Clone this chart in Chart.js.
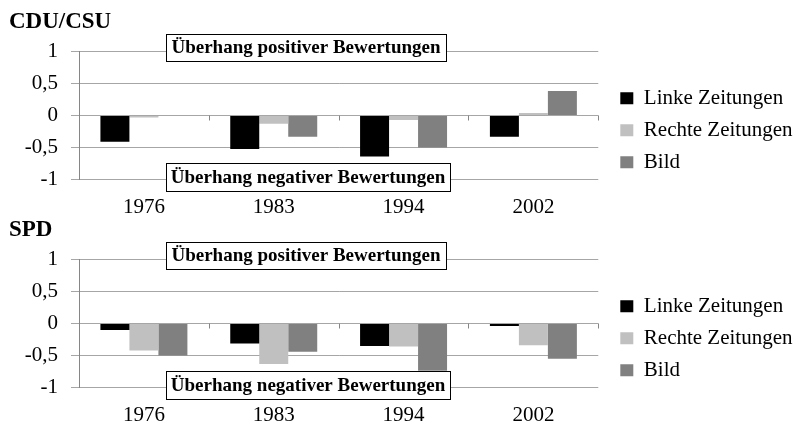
<!DOCTYPE html>
<html>
<head>
<meta charset="utf-8">
<script src="https://cdn.jsdelivr.net/npm/chart.js@4.4.1/dist/chart.umd.min.js"></script>
<style>
  body { margin: 0; background: #fff; }
  .panel { position: absolute; left: 0; width: 793px; height: 218px; }
</style>
</head>
<body>
<div class="panel" style="top:0"><canvas id="cduChart" width="793" height="218"></canvas></div>
<div class="panel" style="top:208px"><canvas id="spdChart" width="793" height="218"></canvas></div>
<script>
// categories, series and tick labels
var categories = ["1976", "1983", "1994", "2002"];
var seriesNames = ["Linke Zeitungen", "Rechte Zeitungen", "Bild"];
var seriesColors = ["#000000", "#c0c0c0", "#808080"];

var cduLinke = [-0.41, -0.52, -0.64, -0.33];
var cduRechte = [-0.03, -0.13, -0.07, 0.04];
var cduBild = [0, -0.33, -0.50, 0.38];

var spdLinke = [-0.10, -0.31, -0.35, -0.04];
var spdRechte = [-0.42, -0.63, -0.36, -0.34];
var spdBild = [-0.50, -0.44, -0.78, -0.55];

var yTicks = [-1, -0.5, 0, 0.5, 1];
var yTickLabels = ["-1", "-0,5", "0", "0,5", "1"];

var annotTop = "Überhang positiver Bewertungen";
var annotBottom = "Überhang negativer Bewertungen";

var SERIF = "'Liberation Serif', 'Times New Roman', serif";
Chart.defaults.font.family = SERIF;
Chart.defaults.color = "#000";

function drawNoteBox(ctx, left, top, width, height, text) {
    ctx.fillStyle = "#fff";
    ctx.fillRect(left, top, width, height);
    ctx.strokeStyle = "#000";
    ctx.lineWidth = 1;
    ctx.strokeRect(Math.round(left) + 0.5, Math.round(top) + 0.5, Math.round(width), Math.round(height));
    ctx.fillStyle = "#000";
    ctx.font = "bold 19px " + SERIF;
    ctx.textAlign = "center";
    ctx.textBaseline = "middle";
    ctx.fillText(text, left + width / 2, top + height / 2 + 1);
}

// zero line ticks and the two text boxes
var decorations = {
    id: "decorations",
    afterDatasetsDraw: function (chart) {
        var ctx = chart.ctx;
        var x = chart.scales.x;
        var y = chart.scales.y;
        var y0 = Math.round(y.getPixelForValue(0)) + 0.5;
        ctx.save();
        ctx.strokeStyle = "#868686";
        ctx.lineWidth = 1;
        ctx.beginPath();
        for (var i = 0; i <= categories.length; i++) {
            var px = Math.round(x.getPixelForValue(i - 0.5)) + 0.5;
            ctx.moveTo(px, y0);
            ctx.lineTo(px, y0 + 5);
        }
        ctx.stroke();
        var left = chart.chartArea.left + 87;
        drawNoteBox(ctx, left, y.getPixelForValue(1) - 17.3, 280, 27, annotTop);
        drawNoteBox(ctx, left, y.getPixelForValue(-1) - 17, 284, 28, annotBottom);
        ctx.restore();
    }
};

function makeChart(id, title, values) {
    return new Chart(document.getElementById(id).getContext("2d"), {
        type: "bar",
        data: {
            labels: categories,
            datasets: seriesNames.map(function (name, i) {
                return {
                    label: name,
                    data: values[i],
                    backgroundColor: seriesColors[i],
                    borderWidth: 0,
                    categoryPercentage: 0.67,
                    barPercentage: 1.0
                };
            })
        },
        options: {
            responsive: false,
            animation: false,
            devicePixelRatio: 1,
            layout: { padding: { left: 9, right: -9.5, top: 0, bottom: 0 } },
            plugins: {
                title: {
                    display: true,
                    text: title,
                    align: "start",
                    color: "#000",
                    font: { family: SERIF, size: 23, weight: "bold" },
                    padding: { top: 8, bottom: 15.7 }
                },
                legend: {
                    position: "right",
                    maxWidth: 200,
                    title: {
                        display: true,
                        text: " ",
                        font: { family: SERIF, size: 12, lineHeight: 1 },
                        padding: { top: 0, bottom: 30.6 }
                    },
                    labels: {
                        boxWidth: 13,
                        boxHeight: 12,
                        padding: 11,
                        color: "#000",
                        font: { family: SERIF, size: 21 }
                    }
                },
                tooltip: { enabled: false }
            },
            scales: {
                x: {
                    grid: { display: false, drawTicks: false },
                    border: { display: false },
                    ticks: { padding: 15, font: { family: SERIF, size: 21 }, color: "#000" },
                    afterFit: function (scale) { scale.height = 38.3; }
                },
                y: {
                    min: -1,
                    max: 1,
                    afterBuildTicks: function (scale) {
                        scale.ticks = yTicks.map(function (v) { return { value: v }; });
                    },
                    ticks: {
                        padding: 13,
                        font: { family: SERIF, size: 21 },
                        color: "#000",
                        callback: function (value) {
                            return yTickLabels[yTicks.indexOf(value)];
                        }
                    },
                    grid: { color: "#a6a6a6", lineWidth: 1, tickLength: 8 },
                    border: { display: true, color: "#868686", width: 1 },
                    afterFit: function (scale) { scale.width = 70; }
                },
                spacer: {
                    type: "linear",
                    position: "right",
                    grid: { display: false },
                    border: { display: false },
                    ticks: { display: false },
                    afterFit: function (scale) { scale.width = 11; }
                }
            }
        },
        plugins: [decorations]
    });
}

makeChart("cduChart", "CDU/CSU", [cduLinke, cduRechte, cduBild]);
makeChart("spdChart", "SPD", [spdLinke, spdRechte, spdBild]);
</script>
</body>
</html>
